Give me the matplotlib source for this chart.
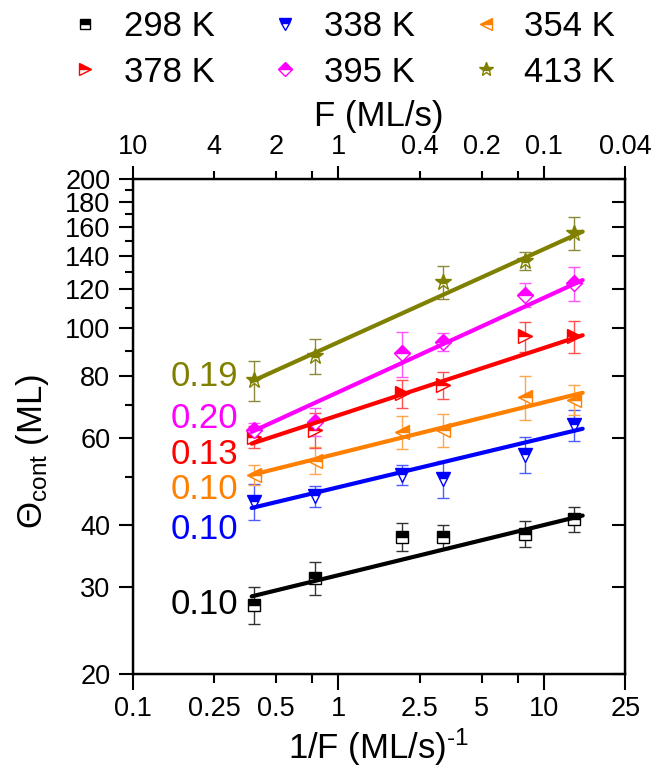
import matplotlib
matplotlib.use("Agg")
import matplotlib.pyplot as plt
import numpy as np
from matplotlib.lines import Line2D
from matplotlib.ticker import FixedLocator, FixedFormatter, NullLocator

plt.rcParams['font.family'] = ['Liberation Sans', 'DejaVu Sans']
plt.rcParams['mathtext.fontset'] = 'custom'
plt.rcParams['mathtext.rm'] = 'Liberation Sans'
plt.rcParams['mathtext.it'] = 'Liberation Sans:italic'
plt.rcParams['mathtext.bf'] = 'Liberation Sans:bold'

# ---------------- data ----------------
inv_flux = [0.39, 0.77, 2.04, 3.23, 8.13, 14.1]   # 1/F (ML/s)^-1

labels = ['298 K', '338 K', '354 K', '378 K', '395 K', '413 K']
colors = ['#000000', '#0000FF', '#FF8000', '#FF0000', '#FF00FF', '#808000']
err_colors = ['#333333', '#4d5cff', '#ffa64d', '#ff5050', '#ff55ff', '#8a8a3a']
markers = ['s', 'v', '<', '>', 'D', '*']

theta_298 = [27.6, 31.3, 37.9, 37.9, 38.4, 41.1]
err_298 = [2.4, 2.35, 2.45, 2.15, 2.3, 2.3]
theta_338 = [44.6, 45.7, 50.5, 49.6, 55.5, 63.8]
err_338 = [3.7, 2.2, 2.3, 4.3, 4.6, 4.6]
theta_354 = [50.5, 54.0, 61.7, 62.2, 72.6, 71.7]
err_354 = [2.4, 3.4, 4.7, 4.7, 7.3, 5.0]
theta_378 = [60.3, 62.2, 73.8, 76.7, 96.2, 96.2]
err_378 = [3.0, 5.0, 4.9, 4.8, 6.8, 7.0]
theta_395 = [62.2, 64.7, 88.9, 93.8, 116.6, 123.1]
err_395 = [2.0, 4.3, 9.3, 3.8, 6.5, 9.7]
theta_413 = [78.5, 88.0, np.nan, 124.1, 136.8, 155.7]
err_413 = [7.2, 7.2, np.nan, 9.5, 5.9, 12.2]

# power-law fit lines (end points)
fit_x = [0.38, 15.5]
fit_298 = [28.7, 41.8]
fit_338 = [43.3, 62.6]
fit_354 = [50.5, 74.0]
fit_378 = [58.4, 96.7]
fit_395 = [61.7, 125.0]
fit_413 = [78.0, 156.6]

slope_labels = ['0.10', '0.10', '0.10', '0.13', '0.20', '0.19']
slope_label_y = [27.6, 39.1, 47.1, 55.4, 65.8, 79.7]

bottom_major = [0.1, 1, 10, 25]
bottom_major_lbl = ['0.1', '1', '10', '25']
bottom_minor = [0.25, 0.5, 0.75, 2.5, 5, 7.5]
bottom_minor_lbl = ['0.25', '0.5', '', '2.5', '5', '']
top_major_lbl = ['10', '1', '0.1', '0.04']
top_minor_lbl = ['4', '2', '', '0.4', '0.2', '']
y_major = [20, 30, 40, 60, 80, 100, 120, 140, 160, 180, 200]
y_minor = [50, 70, 90, 110, 130, 150, 170, 190]

thetas = [theta_298, theta_338, theta_354, theta_378, theta_395, theta_413]
errs = [err_298, err_338, err_354, err_378, err_395, err_413]
fits = [fit_298, fit_338, fit_354, fit_378, fit_395, fit_413]
msizes = [8, 10, 10, 10, 8, 12]

# ---------------- figure ----------------
fig = plt.figure(figsize=(6.55, 7.69), dpi=100)
ax = fig.add_axes([0.2023, 0.1235, 0.7524, 0.6437])
ax.set_xscale('log')
ax.set_yscale('log')
ax.set_xlim(0.1, 25)
ax.set_ylim(20, 200)

for th, er, ft, c, ec, m, ms in zip(thetas, errs, fits, colors, err_colors, markers, msizes):
    ax.errorbar(inv_flux, th, yerr=er, fmt='none', ecolor=ec, elinewidth=1.0,
                capsize=4.5, capthick=1.0, zorder=2)
    ax.plot(inv_flux, th, linestyle='none', marker=m, markersize=ms,
            fillstyle='top', markerfacecolor=c, markerfacecoloralt='white',
            markeredgecolor=c, markeredgewidth=1.0, zorder=3)
    ax.plot(fit_x, ft, color=c, linewidth=3.0, solid_capstyle='round', zorder=4)

for lbl, yy, c in zip(slope_labels, slope_label_y, colors):
    ax.text(0.326, yy, lbl, color=c, fontsize=25, ha='right', va='center')

# spines
for sp in ax.spines.values():
    sp.set_linewidth(1.6)

# bottom axis ticks
ax.xaxis.set_major_locator(FixedLocator(bottom_major))
ax.xaxis.set_major_formatter(FixedFormatter(bottom_major_lbl))
ax.xaxis.set_minor_locator(FixedLocator(bottom_minor))
ax.xaxis.set_minor_formatter(FixedFormatter(bottom_minor_lbl))
ax.tick_params(axis='x', which='major', direction='out', length=11.5, width=1.5,
               labelsize=19.5, pad=4, top=False)
ax.tick_params(axis='x', which='minor', direction='out', length=6.5, width=1.5,
               labelsize=19.5, pad=9, top=False)

# left axis ticks
ax.yaxis.set_major_locator(FixedLocator(y_major))
ax.yaxis.set_major_formatter(FixedFormatter([str(v) for v in y_major]))
ax.yaxis.set_minor_locator(FixedLocator(y_minor))
ax.yaxis.set_minor_formatter(FixedFormatter([''] * len(y_minor)))
ax.tick_params(axis='y', which='major', direction='out', length=10, width=1.5,
               labelsize=19.5, pad=6, right=False)
ax.tick_params(axis='y', which='minor', direction='out', length=5.5, width=1.5,
               right=False)

ax.set_xlabel('1/F (ML/s)$^{\\mathrm{\u2010 1}}$', fontsize=25, labelpad=3.5)
ax.set_ylabel('$\\mathrm{Θ}_{\\mathrm{cont}}$ (ML)', fontsize=25)
ax.yaxis.set_label_coords(-0.165, 0.45)

# top axis (F)
axt = ax.twiny()
axt.set_xscale('log')
axt.set_xlim(ax.get_xlim())
axt.xaxis.set_major_locator(FixedLocator(bottom_major))
axt.xaxis.set_major_formatter(FixedFormatter(top_major_lbl))
axt.xaxis.set_minor_locator(FixedLocator(bottom_minor))
axt.xaxis.set_minor_formatter(FixedFormatter(top_minor_lbl))
axt.tick_params(axis='x', which='major', direction='out', length=9.5, width=1.5,
                labelsize=19.5, pad=4)
axt.tick_params(axis='x', which='minor', direction='out', length=5.5, width=1.5,
                labelsize=19.5, pad=8)
axt.set_xlabel('F (ML/s)', fontsize=25, labelpad=6)
axt.yaxis.set_visible(False)
for sp in axt.spines.values():
    sp.set_linewidth(1.6)

# right axis (inward major ticks only)
axr = ax.twinx()
axr.set_yscale('log')
axr.set_ylim(ax.get_ylim())
axr.yaxis.set_major_locator(FixedLocator(y_major))
axr.yaxis.set_major_formatter(FixedFormatter([''] * len(y_major)))
axr.yaxis.set_minor_locator(NullLocator())
axr.tick_params(axis='y', which='major', direction='in', length=9.5, width=1.5)
axr.xaxis.set_visible(False)

# legend
order = [0, 3, 1, 4, 2, 5]
handles = []
for i in order:
    handles.append(Line2D([], [], linestyle='none', marker=markers[i],
                          markersize=msizes[i] * 0.85, fillstyle='top',
                          markerfacecolor=colors[i], markerfacecoloralt='white',
                          markeredgecolor=colors[i], markeredgewidth=1.0,
                          label=labels[i]))
fig.legend(handles=handles, loc='upper left', bbox_to_anchor=(68 / 655, 1 - 10 / 769),
           ncol=3, frameon=False, fontsize=25, handlelength=1.0, handletextpad=0.6,
           columnspacing=1.55, labelspacing=0.36, borderpad=0, borderaxespad=0)

fig.savefig('out.png', dpi=100)
